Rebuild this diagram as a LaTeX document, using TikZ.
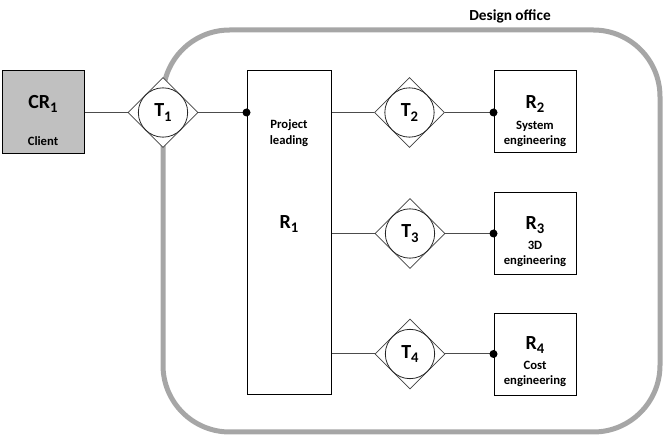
\documentclass[tikz,border=0pt]{standalone}
\usepackage{fontspec}
\setmainfont{Carlito}
\usetikzlibrary{shapes.geometric}
\newcommand{\lowidx}[1]{\raisebox{-0.45ex}{\fontsize{11}{11}\selectfont #1}}

\begin{document}
\begin{tikzpicture}[x=0.75pt,y=0.75pt,yscale=-1,
  font=\bfseries,
  resbox/.style={draw=black,line width=0.75pt,inner sep=0pt},
  transdia/.style={diamond,draw=black!75,line width=0.5pt,fill=white,minimum size=52.5pt,inner sep=0pt},
  transcirc/.style={circle,draw=black!85,line width=0.6pt,minimum size=37pt,inner sep=0pt,font=\fontsize{15}{15}\selectfont\bfseries},
  link/.style={draw=black!70,line width=0.75pt},
  bigtxt/.style={font=\fontsize{15}{15}\selectfont\bfseries},
  smalltxt/.style={font=\fontsize{9.5}{11.5}\selectfont\bfseries,align=center}]
\useasboundingbox (0,0) rectangle (665,438);

%Shape: Rounded Rect [id:office]
\draw [color={rgb, 255:red, 166; green, 166; blue, 166 }, line width=3.75pt, rounded corners=50pt] (163,30) rectangle (660,432) ;
% Text Node
\node [font=\fontsize{11.5}{11.5}\selectfont\bfseries] (office) at (510,16) {Design office};

%Shape: Rectangle [id:cr1]
\node [resbox, fill={rgb, 255:red, 192; green, 192; blue, 192 }, minimum width=61.5pt, minimum height=62.25pt] (cr1) at (43,112.5) {};
%Shape: Rectangle [id:r1]
\node [resbox, minimum width=63pt, minimum height=243pt] (r1) at (289,233) {};
%Shape: Rectangle [id:r2]
\node [resbox, minimum width=61.5pt, minimum height=61.5pt] (r2) at (535,112) {};
%Shape: Rectangle [id:r3]
\node [resbox, minimum width=61.5pt, minimum height=61.5pt] (r3) at (535,234) {};
%Shape: Rectangle [id:r4]
\node [resbox, minimum width=61.5pt, minimum height=61.5pt] (r4) at (535,354.5) {};

%Shape: Diamond [id:t1]
\node [transdia] (t1) at (163,112.5) {};
\node [transcirc] (t1c) at (t1) {T\lowidx{1}};
%Shape: Diamond [id:t2]
\node [transdia] (t2) at (409.5,112.5) {};
\node [transcirc] (t2c) at (t2) {T\lowidx{2}};
%Shape: Diamond [id:t3]
\node [transdia] (t3) at (410,233.5) {};
\node [transcirc] (t3c) at (t3) {T\lowidx{3}};
%Shape: Diamond [id:t4]
\node [transdia] (t4) at (410,354) {};
\node [transcirc] (t4c) at (t4) {T\lowidx{4}};

%Straight Lines
\draw [link] (cr1.east) -- (t1.west) ;
\coordinate (d1) at (t1.east -| r1.west);
\draw [link] (t1.east) -- (d1) ;
\draw [link] (t2.west -| r1.east) -- (t2.west) ;
\coordinate (d2) at (t2.east -| r2.west);
\draw [link] (t2.east) -- (d2) ;
\draw [link] (t3.west -| r1.east) -- (t3.west) ;
\coordinate (d3) at (t3.east -| r3.west);
\draw [link] (t3.east) -- (d3) ;
\draw [link] (t4.west -| r1.east) -- (t4.west) ;
\coordinate (d4) at (t4.east -| r4.west);
\draw [link] (t4.east) -- (d4) ;

%Shape: Circle
\fill (d1) circle (3pt) ;
\fill (d2) circle (3pt) ;
\fill (d3) circle (3pt) ;
\fill (d4) circle (3pt) ;

% Text Node
\node [bigtxt] (cr1lbl) at (43,104) {CR\lowidx{1}};
% Text Node
\node [smalltxt] (cr1txt) at (43,141) {Client};
% Text Node
\node [smalltxt] (r1txt) at (289,133) {Project\\leading};
% Text Node
\node [bigtxt] (r1lbl) at (289,224) {R\lowidx{1}};
% Text Node
\node [bigtxt] (r2lbl) at (535,104) {R\lowidx{2}};
% Text Node
\node [smalltxt] (r2txt) at (535,134) {System\\engineering};
% Text Node
\node [bigtxt] (r3lbl) at (535,225) {R\lowidx{3}};
% Text Node
\node [smalltxt] (r3txt) at (535,254) {3D\\engineering};
% Text Node
\node [bigtxt] (r4lbl) at (535,345) {R\lowidx{4}};
% Text Node
\node [smalltxt] (r4txt) at (535,374) {Cost\\engineering};

\end{tikzpicture}
\end{document}
